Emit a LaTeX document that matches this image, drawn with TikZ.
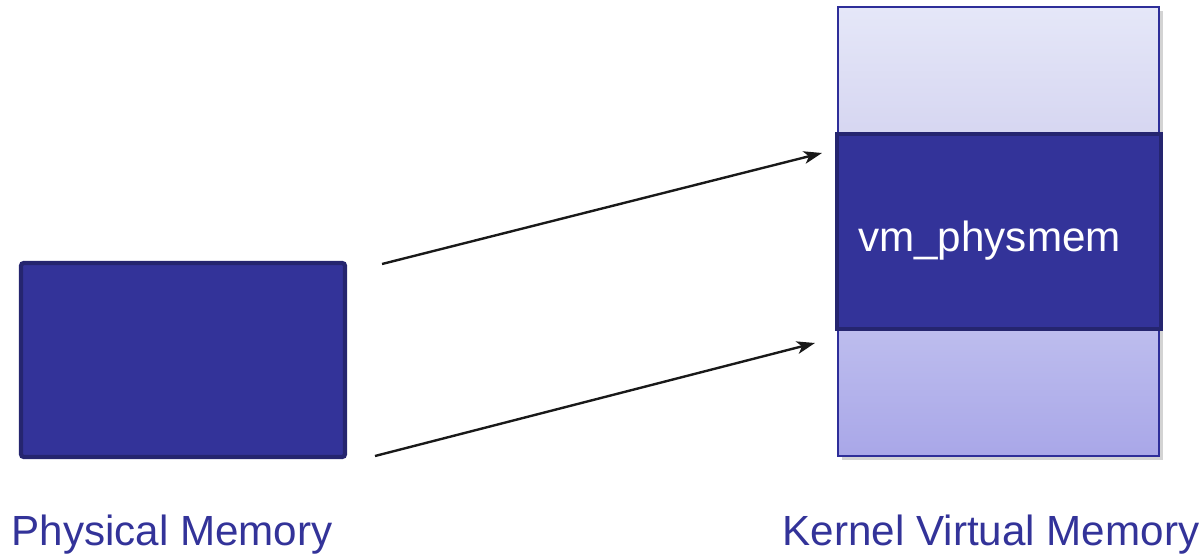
\documentclass[tikz,border=0pt]{standalone}
\usepackage{fontspec}
\setmainfont{Liberation Sans}
\usetikzlibrary{arrows.meta,shadows}

\definecolor{memblue}{HTML}{333399}
\definecolor{memedge}{HTML}{25256F}
\definecolor{coledge}{HTML}{2E2E99}
\definecolor{kvtop}{HTML}{E5E7F8}
\definecolor{kvmid}{HTML}{D6D6F1}
\definecolor{kvlow}{HTML}{BDBDEE}
\definecolor{kvbot}{HTML}{A9A7E8}

\tikzset{
  membox/.style={rectangle, fill=memblue, draw=memedge, inner sep=0pt, outer sep=0pt},
  kvpart/.style={rectangle, draw=coledge, line width=1.8pt, inner sep=0pt, outer sep=0pt,
    minimum width=8.025cm, minimum height=3.175cm},
  maparrow/.style={-{Stealth[length=13pt,width=9pt,inset=3.5pt]}, line width=1.7pt, black!90},
  memlabel/.style={text=memblue, font=\fontsize{30}{36}\selectfont, inner sep=0pt, anchor=base}
}

\begin{document}
\begin{tikzpicture}
  \useasboundingbox (0,0) rectangle (30.025,13.875);

  % physical side
  \node[membox, line width=3pt, rounded corners=2pt, minimum width=8.1cm,
    minimum height=4.85cm] (phys) at (4.575,4.875) {};

  % kernel virtual address space
  \node[rectangle, fill=white, minimum width=8.025cm, minimum height=11.225cm,
    drop shadow={opacity=.35, shadow xshift=2.5pt, shadow yshift=-3pt}] (kvcol) at (24.9625,8.0875) {};
  \node[kvpart, top color=kvtop, bottom color=kvmid] (kvupper) at (24.9625,12.1125) {};
  \node[kvpart, top color=kvlow, bottom color=kvbot] (kvlower) at (24.9625,4.0625) {};
  \node[membox, line width=2.8pt, minimum width=8.1cm, minimum height=4.875cm] (physwin) at (24.975,8.0875) {};
  \node[text=white, font=\fontsize{30}{36}\selectfont, inner sep=0pt, anchor=base west] (physwintxt)
    at (21.45,7.6) {vm\_physmem};

  % mapping
  \coordinate (topfrom) at (9.55,7.275);
  \coordinate (topto) at (20.55,10.05);
  \coordinate (botfrom) at (9.375,2.475);
  \coordinate (botto) at (20.375,5.3);
  \draw[maparrow] (topfrom) -- (topto);
  \draw[maparrow] (botfrom) -- (botto);

  \node[memlabel] (physlabel) at (4.3,0.25) {Physical Memory};
  \node[memlabel] (kvlabel) at (24.775,0.25) {Kernel Virtual Memory};
\end{tikzpicture}
\end{document}
